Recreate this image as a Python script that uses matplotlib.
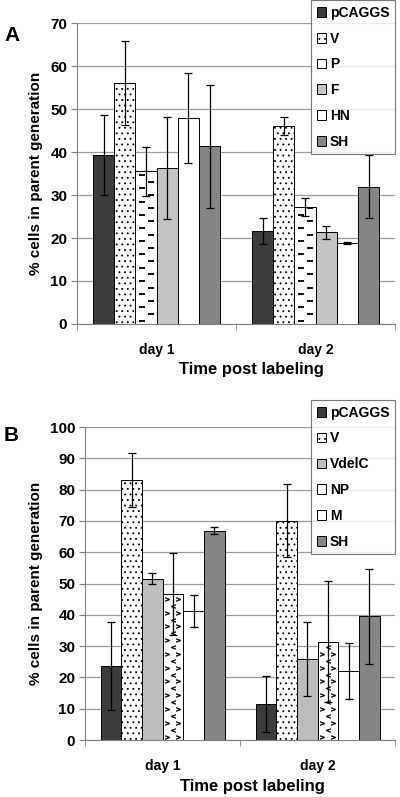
import numpy as np
from matplotlib import pyplot as plt
from matplotlib.patches import Patch

days = ["day 1", "day 2"]

# panel A
a_names = ["pCAGGS", "V", "P", "F", "HN", "SH"]
a_vals = [[39.3, 21.6], [56.0, 46.0], [35.5, 27.2], [36.3, 21.3], [48.0, 18.8], [41.3, 31.9]]
a_errs = [[9.4, 3.0], [9.8, 2.1], [5.7, 2.1], [11.8, 1.5], [10.5, 0.3], [14.2, 7.3]]

# panel B
b_names = ["pCAGGS", "V", "VdelC", "NP", "M", "SH"]
b_vals = [[23.6, 11.4], [83.0, 70.1], [51.6, 25.9], [46.8, 31.4], [41.2, 22.1], [66.9, 39.6]]
b_errs = [[14.1, 8.9], [8.6, 11.7], [1.9, 11.9], [13.1, 19.3], [5.0, 8.9], [1.0, 15.2]]

# fill style for each series name: (facecolor, hatch, stamped marks)
styles = {
    "pCAGGS": ("#3c3c3c", None, None),
    "V": ("white", "...", None),
    "P": ("white", None, "dash"),
    "F": ("#c4c4c4", None, None),
    "HN": ("white", None, None),
    "SH": ("#858585", None, None),
    "VdelC": ("#bdbdbd", None, None),
    "NP": ("white", None, "chev"),
    "M": ("white", None, None),
}

plt.rcParams['font.family'] = ['Liberation Sans', 'DejaVu Sans']
plt.rcParams['font.weight'] = 'bold'
plt.rcParams['axes.labelweight'] = 'bold'
plt.rcParams['hatch.linewidth'] = 0.6


def stamp(ax, bar, kind, ymax):
    # draw a small repeating pattern clipped to the bar
    x0, w, h = bar.get_x(), bar.get_width(), bar.get_height()
    step = ymax * 0.022
    rows = np.arange(step * 0.5, h + step, step)
    for i, y in enumerate(rows):
        if kind == "dash":
            xs = [x0 + w * 0.3] if i % 2 == 0 else [x0 + w * 0.72]
            for xx in xs:
                m = ax.scatter([xx], [y], marker="_", s=18, color="black",
                               linewidths=1.3, zorder=3)
                m.set_clip_path(bar)
        else:
            xs = [x0 + w * 0.22, x0 + w * 0.75] if i % 2 == 0 else [x0 + w * 0.5]
            mk = "$>$" if i % 2 == 0 else "$<$"
            for xx in xs:
                m = ax.scatter([xx], [y], marker=mk, s=10, color="black",
                               linewidths=0.3, zorder=3)
                m.set_clip_path(bar)


def panel(ax, names, vals, errs, ymax, ystep, top_off, xl_pos):
    n = len(names)
    w = 1 / 7.5
    x = np.arange(len(days))
    handles = []
    for i, nm in enumerate(names):
        fc, hatch, mark = styles[nm]
        pos = x + (i - (n - 1) / 2) * w
        bars = ax.bar(pos, vals[i], w, color=fc, edgecolor="black", linewidth=0.7,
                      hatch=hatch, zorder=2)
        ax.errorbar(pos, vals[i], yerr=errs[i], fmt="none", ecolor="black",
                    elinewidth=0.9, capsize=3, capthick=0.9, zorder=4)
        if mark:
            for b in bars:
                stamp(ax, b, mark, ymax)
        handles.append(Patch(facecolor=fc, edgecolor="black", hatch=hatch,
                             linewidth=0.7, label=nm))
    ax.set_xlim(-0.5, 1.5)
    ax.set_ylim(0, ymax)
    ax.set_yticks(np.arange(0, ymax + 1, ystep))
    ax.set_xticks(x)
    ax.set_xticklabels(days, fontsize=10, fontweight="bold")
    ax.set_yticklabels([str(v) for v in np.arange(0, ymax + 1, ystep)],
                       fontsize=11, fontweight="bold")
    ax.set_xticks([-0.5, 0.5, 1.5], minor=True)
    ax.tick_params(axis="x", which="major", length=0, pad=14)
    ax.tick_params(axis="x", which="minor", length=4, color="#808080")
    ax.tick_params(axis="y", length=4, color="#808080", pad=3)
    ax.grid(axis="y", color="#9a9a9a", linewidth=0.9, zorder=0)
    ax.set_axisbelow(True)
    for s in ["top", "right"]:
        ax.spines[s].set_visible(False)
    for s in ["left", "bottom"]:
        ax.spines[s].set_color("#808080")
    ax.set_ylabel("% cells in parent generation", fontsize=11, fontweight="bold",
                  labelpad=5)
    ax.set_xlabel("Time post labeling", fontsize=12, fontweight="bold")
    ax.xaxis.set_label_coords(xl_pos, -0.125)
    leg = ax.legend(handles=handles, loc="upper right", bbox_to_anchor=(1.0, top_off),
                    prop={"size": 10, "weight": "bold"}, frameon=True,
                    fancybox=False, edgecolor="#555555",
                    handlelength=0.7, handleheight=0.7, handletextpad=0.25,
                    labelspacing=0.85, borderpad=0.4, borderaxespad=0)
    leg.get_frame().set_linewidth(0.8)
    leg.set_zorder(6)
    return leg


fig = plt.figure(figsize=(4, 7.97), dpi=100)
ax1 = fig.add_axes([0.1925, 0.5935, 0.795, 0.3775])
ax2 = fig.add_axes([0.2125, 0.0715, 0.775, 0.3927])

panel(ax1, a_names, a_vals, a_errs, 70, 10, 1.076, 0.55)
panel(ax2, b_names, b_vals, b_errs, 100, 10, 1.086, 0.54)

fig.text(0.01, 0.955, "A", fontsize=15, fontweight="bold", va="center")
fig.text(0.01, 0.454, "B", fontsize=15, fontweight="bold", va="center")

plt.savefig("out.png", dpi=100)
